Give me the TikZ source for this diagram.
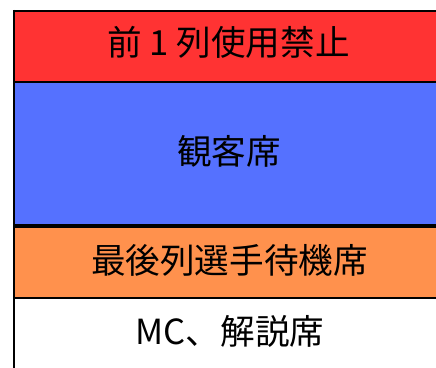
\documentclass[tikz,border=0pt]{standalone}
\usepackage{fontspec}
\newfontfamily\jp{Noto Sans CJK JP}
\definecolor{bandred}{RGB}{255,51,51}
\definecolor{bandblue}{RGB}{85,113,255}
\definecolor{bandorange}{RGB}{255,145,77}
\begin{document}
\begin{tikzpicture}[x=1pt,y=1pt,
  lbl/.style={font=\jp\fontsize{34.6}{40}\selectfont, inner sep=0pt},
  edge/.style={draw=black, line width=2pt}]
\useasboundingbox (0,0) rectangle (436,367);
\begin{scope}
\clip (0,0) rectangle (436,367);
\fill[bandred] (14.3,356) rectangle (444,285);
\fill[bandblue] (14.3,285) rectangle (444,141);
\fill[bandorange] (14.3,141) rectangle (444,69.3);
\fill[white] (14.3,69.3) rectangle (444,-10);
\draw[edge] (13.3,356) -- (450,356);
\draw[edge] (14.3,357) -- (14.3,-10);
\draw[edge] (14.3,285) -- (450,285);
\draw[edge, line width=4pt] (14.3,141) -- (450,141);
\draw[edge] (14.3,69.3) -- (450,69.3);
\end{scope}
\node[lbl] (r) at (228.5,325) {前 1 列使用禁止};
\node[lbl] (b) at (229,216) {観客席};
\node[lbl] (o) at (229.5,107) {最後列選手待機席};
\node[lbl] (w) at (230,36) {MC、解説席};
\end{tikzpicture}
\end{document}
